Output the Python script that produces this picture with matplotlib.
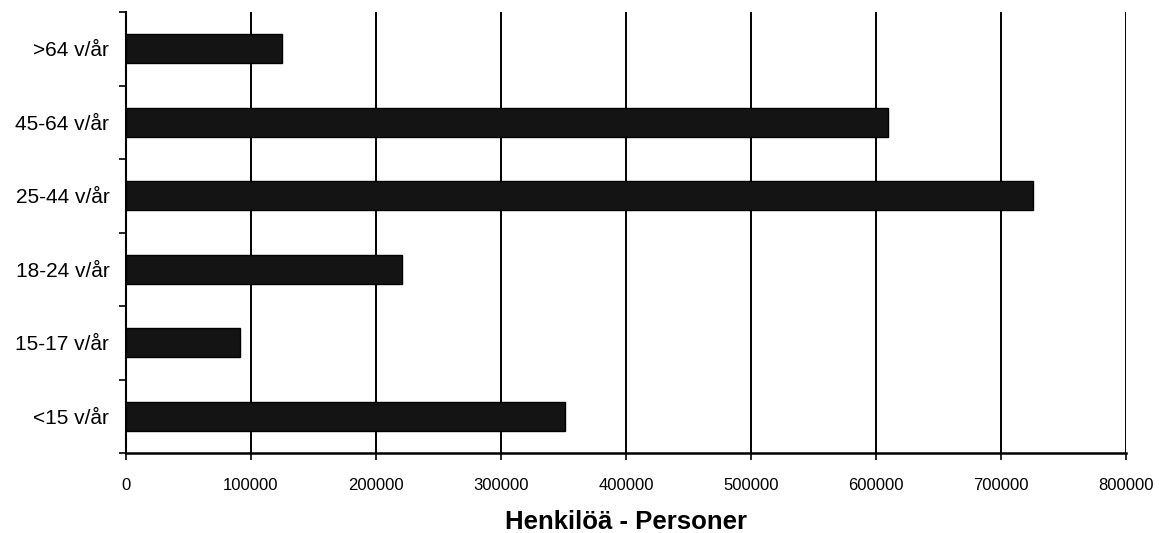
import matplotlib.pyplot as plt
import numpy as np

plt.rcParams['font.family'] = ['Liberation Sans', 'DejaVu Sans']

categories = ["<15 v/år", "15-17 v/år", "18-24 v/år", "25-44 v/år", "45-64 v/år", ">64 v/år"]
persons = [351000, 91000, 220500, 725500, 609500, 125000]
x_ticks = [0, 100000, 200000, 300000, 400000, 500000, 600000, 700000, 800000]

fig = plt.figure(figsize=(11.62, 5.33), dpi=100)
ax = fig.add_axes([0.1084, 0.150, 0.8606, 0.8275])

y = np.arange(len(categories))
ax.barh(y, persons, height=0.4, color="#141414", edgecolor="#000000", linewidth=1, zorder=3)

ax.set_xlim(0, 800000)
ax.set_ylim(-0.5, len(categories) - 0.5)

ax.set_xticks(x_ticks)
ax.set_xticklabels([str(v) for v in x_ticks], fontsize=12)
ax.grid(axis="x", color="black", linewidth=1.4, zorder=1)

ax.set_yticks(y)
ax.set_yticklabels(categories, fontsize=15)
ax.set_yticks(np.arange(-0.5, len(categories)), minor=True)
ax.tick_params(axis="y", which="major", length=0, pad=12)
ax.tick_params(axis="y", which="minor", length=5, width=1.2, direction="out")
ax.tick_params(axis="x", length=5, width=1.2, direction="out", pad=13)

for side in ["top", "right"]:
    ax.spines[side].set_visible(False)
ax.spines["left"].set_linewidth(1.5)
ax.spines["bottom"].set_linewidth(1.8)

ax.set_xlabel("Henkilöä - Personer", fontsize=18.5, fontweight="bold", labelpad=12)

plt.savefig("out.png")
plt.close()
